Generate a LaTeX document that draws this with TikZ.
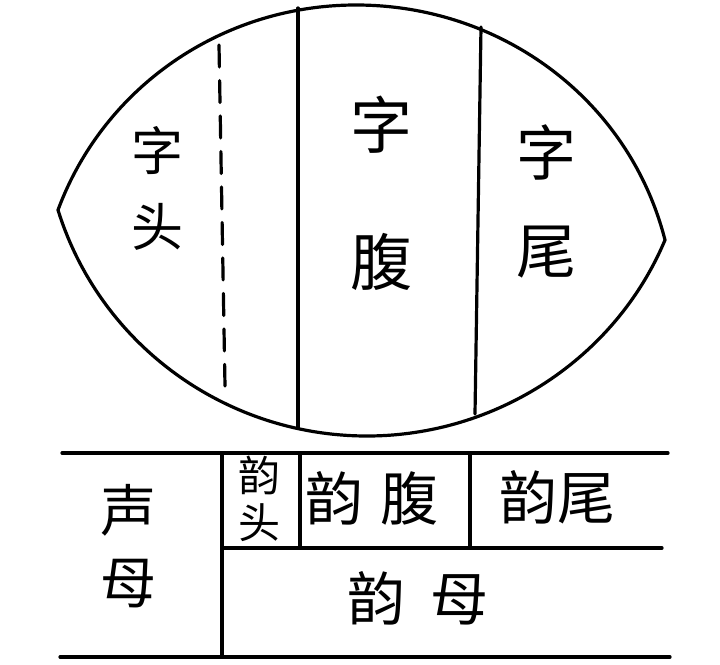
\documentclass[tikz,border=0pt]{standalone}
\usepackage{fontspec}
\newfontfamily\cjk{Noto Sans CJK SC}
\usetikzlibrary{positioning}

\tikzset{
  ink/.style={line width=3.2pt, line cap=round},
  hanzi/.style 2 args={font=\cjk\fontsize{#1}{#2}\selectfont, inner sep=0pt, align=center},
}

\begin{document}
\begin{tikzpicture}[x=1pt,y=-1pt]
  \useasboundingbox (0,0) rectangle (720,664);
  % lens (syllable)
  \coordinate (L) at (58,210);
  \coordinate (T) at (356,5);
  \coordinate (R) at (665,240);
  \coordinate (B) at (367,436);
  \draw[ink, line join=miter] (L) .. controls (104,86) and (223,5) .. (T)
     .. controls (501,5) and (629,99) .. (R)
     .. controls (615,359) and (496,436) .. (B)
     .. controls (226,436) and (100,345) .. cycle;
  \coordinate (d1) at (219,45);
  \coordinate (d2) at (225,386);
  \coordinate (s1) at (298,8);
  \coordinate (s2) at (298,428);
  \coordinate (w1) at (481,27);
  \coordinate (w2) at (475,414);
  \draw[ink, dash pattern=on 22pt off 13.5pt] (d1) -- (d2);
  \draw[ink] (s1) -- (s2);
  \draw[ink] (w1) -- (w2);
  \node[hanzi={52}{76}] (zitou) at (157,188) {字\\头};
  \node[hanzi={62}{137}] (zifu) at (381,193) {字\\腹};
  \node[hanzi={60}{98}] (ziwei) at (546,201) {字\\尾};

  % table (initial / final)
  \coordinate (tl) at (62,453);
  \coordinate (tr) at (668,453);
  \coordinate (bl) at (60,657);
  \coordinate (br) at (670,657);
  \coordinate (v1t) at (222,455);
  \coordinate (v1b) at (222,657);
  \coordinate (v2t) at (300,455);
  \coordinate (v2b) at (300,548);
  \coordinate (v3t) at (470,455);
  \coordinate (v3b) at (470,548);
  \coordinate (hm) at (662,548);
  \draw[ink] (tl) -- (tr);
  \draw[ink] (bl) -- (br);
  \draw[ink] (v1t) -- (v1b);
  \draw[ink] (v2t) -- (v2b);
  \draw[ink] (v3t) -- (v3b);
  \draw[ink] (v1b |- v2b) -- (hm);
  \node[hanzi={56}{72}] (shengmu) at (128,546) {声\\母};
  \node[hanzi={42}{47}] (yuntou) at (259,499) {韵\\头};
  \node[hanzi={58}{58}] (yunfu) at (372,498) {韵\hspace{18pt}腹};
  \node[hanzi={58}{58}] (yunwei) at (557,497) {韵尾};
  \node[hanzi={58}{58}] (yunmu) at (418,598) {韵\hspace{26pt}母};
\end{tikzpicture}
\end{document}
